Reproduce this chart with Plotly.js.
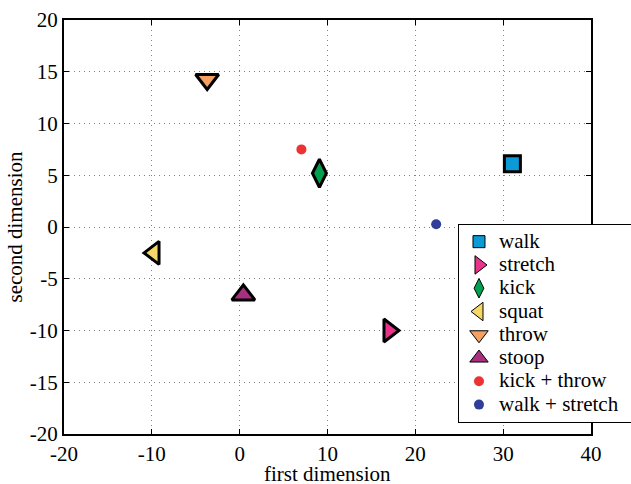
<!DOCTYPE html>
<html>
<head>
<meta charset="utf-8">
<script src="https://cdn.plot.ly/plotly-3.0.1.min.js"></script>
<style>html,body{margin:0;padding:0;background:#fff;}</style>
</head>
<body>
<div id="chart" style="width:631px;height:484px;"></div>
<script>
// Data
var names   = ['walk', 'stretch', 'kick', 'squat', 'throw', 'stoop', 'kick + throw', 'walk + stretch'];
var xVals   = [31.05, 17.0, 9.08, -9.75, -3.7, 0.42, 7.03, 22.37];
var yVals   = [6.1, -10.0, 5.19, -2.5, 14.25, -6.56, 7.5, 0.26];
var colors  = ['#0a9ad6', '#e8338b', '#00a04e', '#f6d86a', '#f4a062', '#a8307e', '#ec3232', '#2f3e99'];
var symbols = ['square', 'triangle-right', 'diamond-tall', 'triangle-left', 'triangle-down', 'triangle-up', 'circle', 'circle'];
var xTicks  = [-20, -10, 0, 10, 20, 30, 40];
var yTicks  = [-20, -15, -10, -5, 0, 5, 10, 15, 20];
var xTitle  = 'first dimension';
var yTitle  = 'second dimension';

// styling (not data)
var plotSizes   = [16, 20, 20, 20, 20, 20, 10, 10];
var plotLines   = [3, 3, 3, 3, 3, 3, 0, 0];
var legendSizes = [12, 16, 14, 16, 16, 16, 10, 10];
var legendLines = [1, 1, 1, 1, 1, 1, 0, 0];

var FONT = 'Liberation Serif';
var FS = 21;
var traces = [];
names.forEach(function(n, i) {
  traces.push({
    type: 'scatter', mode: 'markers', x: [xVals[i]], y: [yVals[i]],
    name: n, legendgroup: n, showlegend: false, hoverinfo: 'name',
    marker: {symbol: symbols[i], size: plotSizes[i], color: colors[i],
             line: {color: '#000', width: plotLines[i]}}
  });
});
names.forEach(function(n, i) {
  var pad = (i === names.length - 1) ? '\u00a0\u00a0' : '';
  var label = '<span style="font-size:' + FS + 'px">' + n + pad + '</span>';
  traces.push({
    type: 'scatter', mode: 'markers', x: [null], y: [null],
    name: label, legendgroup: n, showlegend: true,
    marker: {symbol: symbols[i], size: legendSizes[i], color: colors[i],
             line: {color: '#000', width: legendLines[i]}}
  });
});

function axisBase() {
  return {
    showline: true, linecolor: '#000', linewidth: 2, mirror: 'ticks',
    ticks: 'inside', ticklen: 5, tickwidth: 1, tickcolor: '#000',
    showgrid: true, gridcolor: '#808080', gridwidth: 1, griddash: '1px,4px',
    zeroline: false, automargin: false,
    tickfont: {family: FONT, size: FS, color: '#000'}
  };
}

var layout = {
  width: 631, height: 484,
  margin: {l: 64, r: 40, t: 20, b: 50, autoexpand: false},
  paper_bgcolor: '#fff', plot_bgcolor: '#fff',
  font: {family: FONT, size: FS, color: '#000'},
  showlegend: true,
  legend: {
    x: 0.7476, y: 0.5072, xanchor: 'left', yanchor: 'top',
    bgcolor: '#fff', bordercolor: '#000', borderwidth: 1,
    font: {family: FONT, size: 15.6, color: '#000'},
    tracegroupgap: 0
  },
  xaxis: Object.assign(axisBase(), {
    range: [-20, 40], tickvals: xTicks, ticktext: xTicks.map(String)
  }),
  yaxis: Object.assign(axisBase(), {
    range: [-20, 20], tickvals: yTicks, ticktext: yTicks.map(String),
    title: {text: yTitle, font: {family: FONT, size: FS, color: '#000'}, standoff: 1}
  }),
  annotations: [{
    text: xTitle, xref: 'paper', yref: 'paper', x: 0.5, y: 0,
    xanchor: 'center', yanchor: 'bottom', yshift: -54, showarrow: false,
    font: {family: FONT, size: FS, color: '#000'}
  }]
};

Plotly.newPlot('chart', traces, layout, {displayModeBar: false, staticPlot: true});
</script>
</body>
</html>
